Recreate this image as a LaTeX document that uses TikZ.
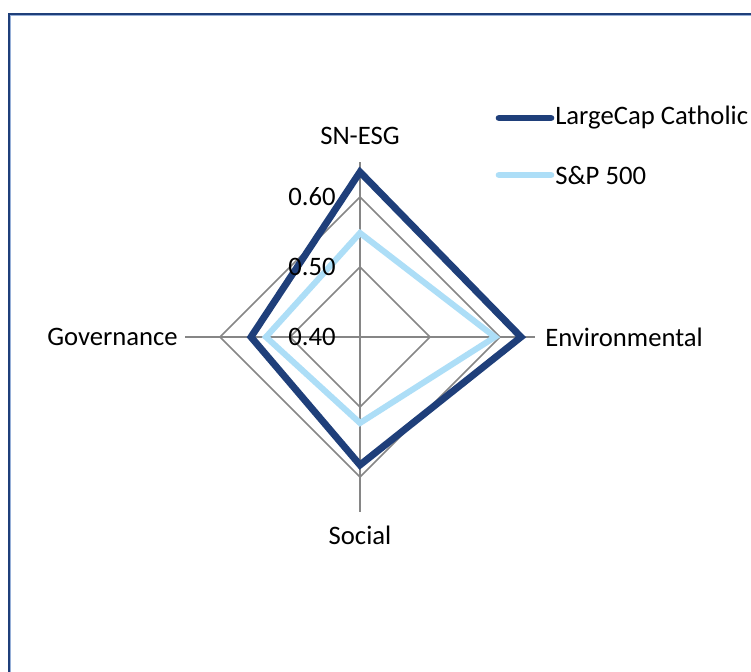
\documentclass[tikz,border=0pt]{standalone}
\usepackage{fontspec}
\setmainfont{Carlito}
\definecolor{navy}{RGB}{31,63,122}
\definecolor{skyb}{RGB}{173,222,247}
\definecolor{gridg}{RGB}{134,134,134}
\definecolor{framelight}{RGB}{150,175,215}
\begin{document}
\begin{tikzpicture}[x=0.75pt,y=-0.75pt,
  lbl/.style={font=\fontsize{20}{24}\selectfont, inner sep=0pt, text=black},
  gridline/.style={draw=gridg, line width=1.1pt},
  bigseries/.style={draw=navy, line width=5.2pt, line join=miter},
  smallseries/.style={draw=skyb, line width=4.5pt, line join=miter},
  legline/.style={line width=5pt, line cap=round}]
\useasboundingbox (0,0) rectangle (751,672);
\fill[white] (0,0) rectangle (751,672);
% frame
\draw[navy, line width=1.3pt] (8.7,675) -- (8.7,13.7) -- (755,13.7);
\draw[framelight, line width=0.8pt] (10.3,675) -- (10.3,15.3) -- (755,15.3);
% centre
\coordinate (c) at (360,337);
% grid diamonds (0.50 r=70, 0.60 r=140)
\draw[gridline] (360,267) -- (430,337) -- (360,407) -- (290,337) -- cycle;
\draw[gridline] (360,197) -- (500,337) -- (360,477) -- (220,337) -- cycle;
% axes
\coordinate (at) at (360,162);
\coordinate (ar) at (535,337);
\coordinate (ab) at (360,512);
\coordinate (al) at (185,337);
\draw[gridline] (c) -- (at);
\draw[gridline] (c) -- (ar);
\draw[gridline] (c) -- (ab);
\draw[gridline] (c) -- (al);
% S&P 500 series
\coordinate (s1) at (360,233);
\coordinate (s2) at (495,337);
\coordinate (s3) at (360,423);
\coordinate (s4) at (266,337);
\draw[smallseries] (s1) -- (s2) -- (s3) -- (s4) -- cycle;
% LargeCap Catholic series
\coordinate (l1) at (360,172);
\coordinate (l2) at (521,337);
\coordinate (l3) at (360,465);
\coordinate (l4) at (251,337);
\draw[bigseries] (l1) -- (l2) -- (l3) -- (l4) -- cycle;
% tick labels
\node[lbl, anchor=east] (t60) at (336,197) {0.60};
\node[lbl, anchor=east] (t50) at (336,267) {0.50};
\node[lbl, anchor=east] (t40) at (336,337) {0.40};
% axis labels
\node[lbl, anchor=south] (nesg) at (360,145) {SN-ESG};
\node[lbl, anchor=west] (nenv) at (545,337) {Environmental};
\node[lbl, anchor=north] (nsoc) at (360,526) {Social};
\node[lbl, anchor=east] (ngov) at (178,337) {Governance};
% legend
\coordinate (lg1a) at (499,118);
\coordinate (lg1b) at (551,118);
\coordinate (lg2a) at (499,175);
\coordinate (lg2b) at (551,175);
\draw[legline, navy] (lg1a) -- (lg1b);
\draw[legline, skyb] (lg2a) -- (lg2b);
\node[lbl, anchor=west] (leg1) at (555,118) {LargeCap Catholic};
\node[lbl, anchor=west] (leg2) at (555,175) {S\&P 500};
\end{tikzpicture}
\end{document}
